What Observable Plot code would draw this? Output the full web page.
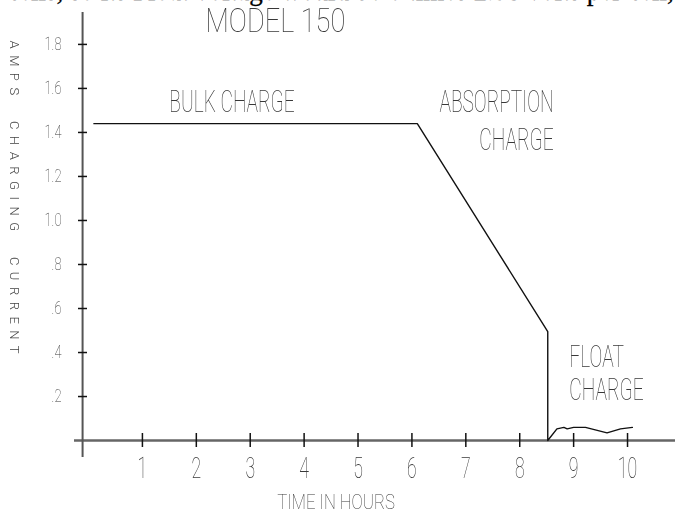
<!DOCTYPE html>
<html>
<head>
<meta charset="utf-8">
<script src="https://cdn.jsdelivr.net/npm/d3@7"></script>
<script src="https://cdn.jsdelivr.net/npm/@observablehq/plot@0.6"></script>
<style>
  html, body { margin: 0; padding: 0; background: #fff; }
  #wrap { position: relative; width: 675px; height: 515px; overflow: hidden; background: #fff; }
  #scan { position: absolute; left: 7px; top: -22px; white-space: nowrap;
          font-family: "Liberation Serif", serif; font-size: 27px; line-height: 27px; color: #000;
          -webkit-text-stroke: 0.3px #000; }
  #chart { position: absolute; left: 0; top: 0; filter: grayscale(1); }
</style>
</head>
<body>
<div id="wrap">
  <div id="chart"></div>
  <div id="scan">cells, so its Float voltage would be 6 times 2.35 volts per cell,</div>
</div>
<script>
// ---- data ----
const lineHours = [0.1, 6.1, 8.52, 8.52, 8.69, 8.82, 8.88, 9.0, 9.22, 9.62, 9.87, 10.09];
const lineAmps  = [1.44, 1.44, 0.495, 0, 0.053, 0.06, 0.053, 0.06, 0.06, 0.035, 0.053, 0.06];

const xTicks = [1, 2, 3, 4, 5, 6, 7, 8, 9, 10];
const yTicks = [0.2, 0.4, 0.6, 0.8, 1.0, 1.2, 1.4, 1.6, 1.8];

const titleText = "MODEL 150";
const xTitle = "TIME IN HOURS";
const yTitle = "AMPS\u00A0\u00A0CHARGING\u00A0\u00A0CURRENT";

const phaseLabels = ["BULK CHARGE", "ABSORPTION", "CHARGE", "FLOAT", "CHARGE"];
const phaseHours  = [1.50, 6.51, 7.25, 8.92, 8.92];
const phaseAmps   = [1.495, 1.495, 1.318, 0.336, 0.182];

// ---- build ----
const rows = lineHours.map((h, i) => ({hours: h, amps: lineAmps[i]}));
const phases = phaseLabels.map((t, i) => ({text: t, hours: phaseHours[i], amps: phaseAmps[i]}));
const yAxisAt = -0.11;
const fmtY = d => d >= 1 ? d.toFixed(1) : d.toFixed(1).slice(1);
const ink = "#383838";

const chart = Plot.plot({
  width: 675,
  height: 515,
  marginLeft: 74,
  marginRight: 0,
  marginTop: 12,
  marginBottom: 58,
  style: {fontFamily: "Roboto, 'Liberation Sans Narrow', sans-serif", fontWeight: 100, background: "#fff", color: ink},
  x: {domain: [-0.26, 10.89]},
  y: {domain: [-0.077, 1.945]},
  marks: [
    Plot.ruleY([0], {stroke: "#666", strokeWidth: 2.5}),
    Plot.ruleX([yAxisAt], {stroke: "#555", strokeWidth: 2}),
    Plot.axisY({ticks: yTicks, tickFormat: fmtY, tickSize: 9, dx: 13, tickPadding: 17,
                fontSize: 18, stroke: "#111", strokeWidth: 1.5, label: null}),
    Plot.axisX({ticks: xTicks, tickSize: 14, dy: -24, tickPadding: 10,
                fontSize: 29.5, stroke: "#111", strokeWidth: 1.5, label: null}),
    Plot.line(rows, {x: "hours", y: "amps", stroke: "#111", strokeWidth: 1.4, curve: "linear"}),
    Plot.text(phases, {x: "hours", y: "amps", text: "text", textAnchor: "start", lineAnchor: "bottom",
                       fontSize: 31, fill: ink}),
    Plot.text([titleText], {x: 2.17, y: 1.855, textAnchor: "start", lineAnchor: "bottom",
                            fontSize: 34, fill: ink}),
    Plot.text([xTitle], {frameAnchor: "bottom", dx: -39, dy: 51, lineAnchor: "bottom",
                         fontSize: 21, fill: ink}),
    Plot.text([yTitle], {frameAnchor: "left", rotate: 90, textAnchor: "start", dx: -60, dy: -194.5,
                         fontSize: 13, fontWeight: 300, fill: "#444"})
  ]
});

// condensed CAD lettering: squeeze each label horizontally about its anchor
const yTickText = new Set(yTicks.map(fmtY));
const xTickText = new Set(xTicks.map(String));
function squeezeFor(s) {
  if (yTickText.has(s)) return 0.72;
  if (xTickText.has(s)) return 0.6;
  if (phaseLabels.includes(s)) return 0.62;
  if (s === titleText) return 0.8;
  if (s === xTitle) return 0.8;
  return null;
}
chart.querySelectorAll("text").forEach(t => {
  const s = t.textContent;
  if (s === yTitle) { t.style.letterSpacing = "6.5px"; return; }
  const k = squeezeFor(s);
  if (!k) return;
  const tr = t.getAttribute("transform");
  if (tr) {
    t.setAttribute("transform", tr + ` scale(${k},1)`);
  } else {
    const x = parseFloat(t.getAttribute("x")) || 0;
    t.removeAttribute("x");
    t.setAttribute("transform", `translate(${x},0) scale(${k},1)`);
  }
});
document.getElementById("chart").appendChild(chart);
</script>
</body>
</html>
